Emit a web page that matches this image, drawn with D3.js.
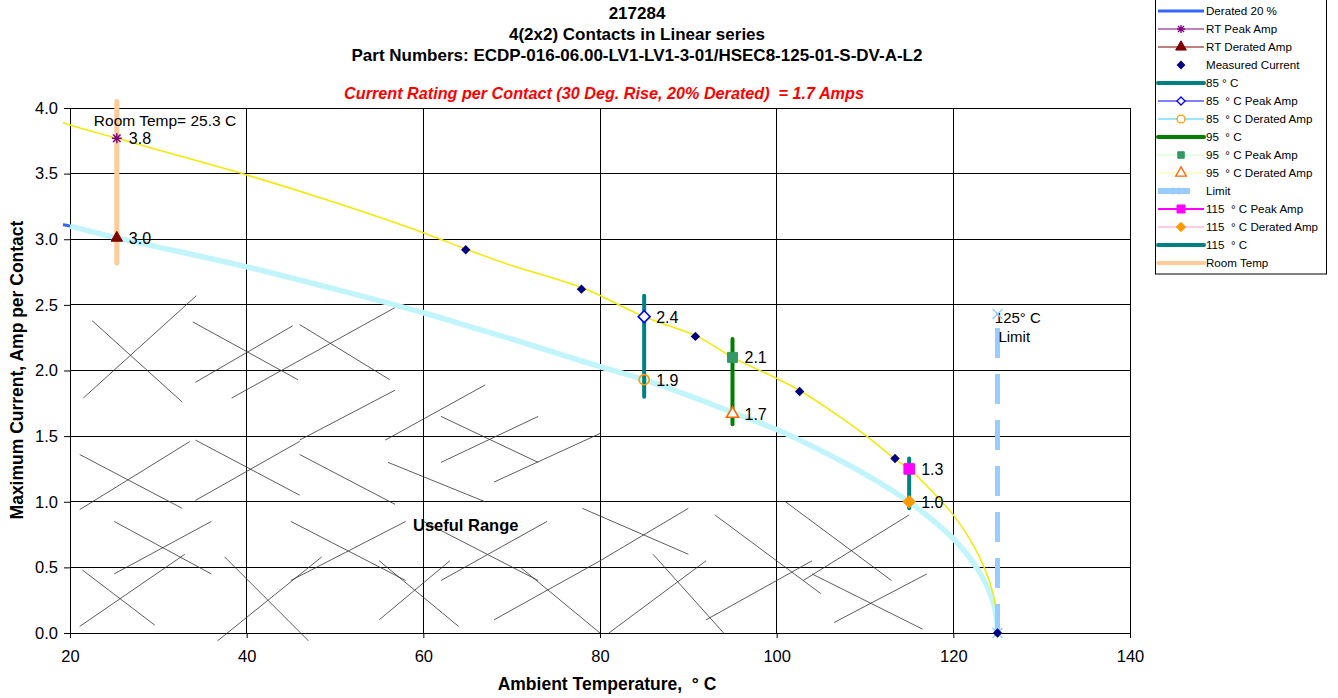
<!DOCTYPE html>
<html>
<head>
<meta charset="utf-8">
<script src="https://cdn.jsdelivr.net/npm/d3@7"></script>
<style>
    body { margin: 0; background: #fff; }
    svg { font-family: "Liberation Sans", Arial, sans-serif; }
    .pre { white-space: pre; }
</style>
</head>
<body>
<svg id="chart" width="1338" height="698"></svg>
<script>
// Peak current curve (yellow)
const peakCurveTemp = [19.2, 20, 25.3, 30, 40, 50, 60, 65, 70, 78, 85, 91, 95, 100, 102.8, 106, 110, 113.5, 115, 118, 120, 122, 123.5, 124.5, 124.9, 125];
const peakCurveAmp  = [3.89, 3.87, 3.77, 3.68, 3.49, 3.28, 3.05, 2.92, 2.80, 2.63, 2.41, 2.26, 2.10, 1.94, 1.84, 1.70, 1.51, 1.32, 1.25, 1.05, 0.90, 0.70, 0.50, 0.30, 0.14, 0];

// Derated 20 % curve
const deratedCurveTemp = [19.2, 20, 25.3, 30, 40, 50, 60, 65, 70, 80, 85, 90, 95, 100, 105, 110, 115, 118, 120, 122, 123.5, 124.5, 124.9, 125];
const deratedCurveAmp  = [3.11, 3.10, 3.01, 2.94, 2.79, 2.62, 2.44, 2.34, 2.24, 2.03, 1.93, 1.81, 1.68, 1.55, 1.39, 1.21, 1.00, 0.84, 0.72, 0.56, 0.40, 0.24, 0.11, 0];

// Measured current points
const measuredTemp = [64.8, 77.9, 90.8, 102.6, 113.4, 125];
const measuredAmp  = [2.92, 2.62, 2.26, 1.84, 1.33, 0];

// Rating points at room temp, 85, 95 and 115 C
const ratingTemp    = [25.3, 85, 95, 115];
const peakAmp       = [3.77, 2.41, 2.10, 1.25];
const peakLabel     = ["3.8", "2.4", "2.1", "1.3"];
const deratedAmp    = [3.01, 1.93, 1.67, 1.00];
const deratedLabel  = ["3.0", "1.9", "1.7", "1.0"];

// Vertical range bars
const barTemp = [25.3, 85, 95, 115];
const barLow  = [2.82, 1.80, 1.59, 0.95];
const barHigh = [4.05, 2.57, 2.24, 1.33];

// Limit line
const limitTemp = 125;
const limitAmp  = [0, 2.43];

// axis ticks
const xTicks = [20, 40, 60, 80, 100, 120, 140];
const yTicks = [0, 0.5, 1, 1.5, 2, 2.5, 3, 3.5, 4];

// "Useful Range" hatch lines: [temp1, amp1, temp2, amp2]
const hatchLines = [
    [21.5, 1.79, 34.3, 2.57], [22.5, 2.38, 32.7, 1.76],
    [33.9, 2.37, 45.8, 1.93], [34.2, 1.91, 45.2, 2.34],
    [38.3, 1.79, 56.8, 2.48], [46.0, 2.35, 56.2, 1.93],
    [21.1, 1.36, 32.7, 0.95], [21.1, 0.94, 33.6, 1.46],
    [34.2, 1.47, 46.0, 1.05], [34.2, 1.01, 46.0, 1.46],
    [46.0, 1.47, 56.8, 1.85], [46.0, 1.36, 56.8, 0.98],
    [55.7, 1.47, 67.0, 1.89], [56.0, 1.30, 67.0, 1.00],
    [62.0, 1.30, 73.0, 1.65], [62.0, 1.65, 73.0, 1.30],
    [68.0, 1.15, 80.0, 1.52],
    [21.4, 0.48, 29.6, 0.06], [21.1, 0.05, 33.0, 0.60],
    [25.0, 0.85, 36.0, 0.45], [25.0, 0.45, 36.0, 0.85],
    [36.7, -0.06, 48.5, 0.58], [37.5, 0.58, 47.0, -0.06],
    [45.0, 0.85, 58.0, 0.40], [45.0, 0.40, 58.0, 0.85],
    [55.0, 0.10, 63.0, 0.55], [55.0, 0.55, 64.0, 0.05],
    [60.0, 0.85, 73.0, 0.40], [62.0, 0.40, 74.0, 0.85],
    [71.0, 0.50, 80.0, 0.00], [68.0, 0.10, 80.0, 0.55],
    [78.0, 0.95, 90.0, 0.60], [80.0, 0.55, 90.0, 0.95],
    [81.0, 0.00, 92.0, 0.55], [86.0, 0.60, 94.0, 0.00],
    [93.0, 0.90, 105.0, 0.30], [92.0, 0.10, 104.0, 0.55],
    [101.0, 1.00, 113.0, 0.40], [103.0, 0.40, 115.0, 0.90],
    [106.5, 0.08, 117.0, 0.45], [104.0, 0.45, 116.5, 0.03]
];

let svg = d3.select("#chart");

let plotLeft = 70, plotRight = 1130, plotTop = 108, plotBottom = 633;
let x = d3.scaleLinear().domain([20, 140]).range([plotLeft, plotRight]);
let y = d3.scaleLinear().domain([0, 4]).range([plotBottom, plotTop]);

// grid
let grid = svg.append("g").attr("shape-rendering", "crispEdges");
grid.selectAll(".hg").data(yTicks).enter().append("line")
    .attr("x1", plotLeft).attr("x2", plotRight)
    .attr("y1", d => y(d)).attr("y2", d => y(d))
    .attr("stroke", "#000").attr("stroke-width", 1);
grid.selectAll(".vg").data(xTicks).enter().append("line")
    .attr("x1", d => x(d)).attr("x2", d => x(d))
    .attr("y1", plotTop).attr("y2", plotBottom)
    .attr("stroke", "#000").attr("stroke-width", 1);

// axes
let xAxis = svg.append("g").attr("transform", "translate(0," + plotBottom + ")")
    .call(d3.axisBottom(x).tickValues(xTicks).tickSize(5).tickSizeOuter(0).tickPadding(12).tickFormat(d3.format("d")));
let yAxis = svg.append("g").attr("transform", "translate(" + plotLeft + ",0)")
    .call(d3.axisLeft(y).tickValues(yTicks).tickSize(6).tickSizeOuter(0).tickPadding(6).tickFormat(d3.format(".1f")));
[xAxis, yAxis].forEach(a => {
    a.selectAll("text").attr("font-size", 16.5).attr("fill", "#000").attr("font-family", "Liberation Sans, Arial, sans-serif");
    a.select(".domain").attr("stroke", "#000");
    a.selectAll(".tick line").attr("stroke", "#000");
});

// hatch of the useful range
svg.append("g").selectAll("line").data(hatchLines).enter().append("line")
    .attr("x1", d => x(d[0])).attr("y1", d => y(d[1]))
    .attr("x2", d => x(d[2])).attr("y2", d => y(d[3]))
    .attr("stroke", "#333").attr("stroke-width", 0.8);

svg.append("text").attr("x", x(64.8)).attr("y", y(0.78))
    .attr("text-anchor", "middle").attr("font-weight", "bold").attr("font-size", 16.5)
    .text("Useful Range");

// curves
let line = d3.line().x(d => x(d[0])).y(d => y(d[1])).curve(d3.curveCatmullRom.alpha(0.5));
let deratedPts = deratedCurveTemp.map((t, i) => [t, deratedCurveAmp[i]]);
let peakPts = peakCurveTemp.map((t, i) => [t, peakCurveAmp[i]]);

svg.append("path").attr("d", line(deratedPts)).attr("fill", "none")
    .attr("stroke", "#3366ff").attr("stroke-width", 3);
svg.append("path").attr("d", line(deratedPts.filter(d => d[0] >= 20))).attr("fill", "none")
    .attr("stroke", "#c2f5fb").attr("stroke-width", 5.5);
svg.append("path").attr("d", line(peakPts)).attr("fill", "none")
    .attr("stroke", "#f2ea00").attr("stroke-width", 1.5);

// limit line
let limitColor = "#99ccff";
svg.append("line")
    .attr("x1", x(limitTemp)).attr("x2", x(limitTemp))
    .attr("y1", y(limitAmp[1])).attr("y2", y(limitAmp[0]))
    .attr("stroke", limitColor).attr("stroke-width", 5)
    .attr("stroke-dasharray", "30,16").attr("stroke-dashoffset", 32);
svg.append("text").attr("x", x(124.7)).attr("y", y(2.36)).attr("font-size", 15).text("125° C");
svg.append("text").attr("x", x(125.1)).attr("y", y(2.22)).attr("font-size", 15).text("Limit");

// range bars
const barColors = ["#ffcc99", "#008080", "#008000", "#008080"];
svg.append("g").selectAll("line").data(barTemp).enter().append("line")
    .attr("x1", d => x(d)).attr("x2", d => x(d))
    .attr("y1", (d, i) => y(barLow[i])).attr("y2", (d, i) => y(barHigh[i]))
    .attr("stroke", (d, i) => barColors[i])
    .attr("stroke-width", (d, i) => i === 0 ? 5 : 4)
    .attr("stroke-linecap", "round");

// markers
function marker(g, type, cx, cy, s) {
    if (type === "asterisk") {
        return g.append("path").attr("transform", "translate(" + cx + "," + cy + ")")
            .attr("d", `M${-s},0H${s}M0,${-s}V${s}M${-s * .75},${-s * .75}L${s * .75},${s * .75}M${-s * .75},${s * .75}L${s * .75},${-s * .75}`);
    }
    if (type === "cross") {
        return g.append("path").attr("transform", "translate(" + cx + "," + cy + ")")
            .attr("d", `M${-s},${-s}L${s},${s}M${-s},${s}L${s},${-s}`);
    }
    let sym = { diamond: d3.symbolDiamond2, square: d3.symbolSquare, triangle: d3.symbolTriangle, circle: d3.symbolCircle }[type];
    return g.append("path").attr("transform", "translate(" + cx + "," + cy + ")")
        .attr("d", d3.symbol().type(sym).size(s * s)());
}

let mk = svg.append("g");
// limit crosses
limitAmp.forEach(a => marker(mk, "cross", x(limitTemp), y(a), 5).attr("stroke", limitColor).attr("stroke-width", 1.5).attr("fill", "none"));
// measured current
measuredTemp.forEach((t, i) => {
    marker(mk, "diamond", x(t), y(measuredAmp[i]), 7.5).attr("fill", "#000080");
});

const peakStyle = [
    { type: "asterisk", size: 5, fill: "none", stroke: "#800080", sw: 1.5 },
    { type: "diamond", size: 9.5, fill: "#fff", stroke: "#0000ff", sw: 1.6 },
    { type: "square", size: 10, fill: "#339966", stroke: "#339966", sw: 1 },
    { type: "square", size: 10.5, fill: "#ff00ff", stroke: "#ff00ff", sw: 1 }
];
const deratedStyle = [
    { type: "triangle", size: 7.5, fill: "#800000", stroke: "#800000", sw: 1 },
    { type: "circle", size: 9, fill: "none", stroke: "#ff9900", sw: 1.6 },
    { type: "triangle", size: 8, fill: "#fff", stroke: "#ff6600", sw: 1.6 },
    { type: "diamond", size: 10, fill: "#ff9900", stroke: "#ff9900", sw: 1 }
];
ratingTemp.forEach((t, i) => {
    let ps = peakStyle[i], ds = deratedStyle[i];
    marker(mk, ps.type, x(t), y(peakAmp[i]), ps.size).attr("fill", ps.fill).attr("stroke", ps.stroke).attr("stroke-width", ps.sw);
    marker(mk, ds.type, x(t), y(deratedAmp[i]), ds.size).attr("fill", ds.fill).attr("stroke", ds.stroke).attr("stroke-width", ds.sw);
    mk.append("text").attr("x", x(t) + 12).attr("y", y(peakAmp[i]) + 6).attr("font-size", 16).text(peakLabel[i]);
    mk.append("text").attr("x", x(t) + 12).attr("y", y(deratedAmp[i]) + 6).attr("font-size", 16).text(deratedLabel[i]);
});

svg.append("text").attr("x", x(22.7)).attr("y", y(3.86)).attr("font-size", 15.5).text("Room Temp= 25.3 C");

// titles
let titles = ["217284", "4(2x2) Contacts in Linear series", "Part Numbers: ECDP-016-06.00-LV1-LV1-3-01/HSEC8-125-01-S-DV-A-L2"];
svg.append("g").selectAll("text").data(titles).enter().append("text")
    .attr("x", 637).attr("y", (d, i) => 19 + i * 21)
    .attr("text-anchor", "middle").attr("font-weight", "bold").attr("font-size", 17)
    .text(d => d);
svg.append("text").attr("x", 604).attr("y", 99).attr("class", "pre")
    .attr("text-anchor", "middle").attr("font-weight", "bold").attr("font-style", "italic")
    .attr("font-size", 16.2).attr("fill", "#ff0000")
    .text("Current Rating per Contact (30 Deg. Rise, 20% Derated)  = 1.7 Amps");

svg.append("text").attr("x", 607).attr("y", 690).attr("class", "pre")
    .attr("text-anchor", "middle").attr("font-weight", "bold").attr("font-size", 17.5)
    .text("Ambient Temperature,  ° C");
svg.append("text").attr("transform", "translate(23,370) rotate(-90)")
    .attr("text-anchor", "middle").attr("font-weight", "bold").attr("font-size", 17.5)
    .text("Maximum Current, Amp per Contact");

// legend
const legendNames = ["Derated 20 %", "RT Peak Amp", "RT Derated Amp", "Measured Current", "85 ° C",
    "85  ° C Peak Amp", "85  ° C Derated Amp", "95  ° C", "95  ° C Peak Amp", "95  ° C Derated Amp",
    "Limit", "115  ° C Peak Amp", "115  ° C Derated Amp", "115  ° C", "Room Temp"];
const legendLine = [
    { c: "#3366ff", w: 3 }, { c: "#800080", w: 1 }, { c: "#800000", w: 1 }, null, { c: "#008080", w: 4 },
    { c: "#0000ff", w: 1 }, { c: "#33ccff", w: 1 }, { c: "#008000", w: 4 }, { c: "#ccffcc", w: 1 }, { c: "#ffff99", w: 1 },
    { c: "#99ccff", w: 6, short: true }, { c: "#ff00ff", w: 2 }, { c: "#ff99cc", w: 1 }, { c: "#008080", w: 4 }, { c: "#ffcc99", w: 4 }
];
const legendMarker = [
    null, { type: "asterisk", size: 4, fill: "none", stroke: "#800080", sw: 1.3 },
    { type: "triangle", size: 7, fill: "#800000", stroke: "#800000", sw: 1 },
    { type: "diamond", size: 7, fill: "#000080", stroke: "none", sw: 0 }, null,
    { type: "diamond", size: 6.5, fill: "#fff", stroke: "#0000ff", sw: 1.3 },
    { type: "circle", size: 7, fill: "#fff", stroke: "#ff9900", sw: 1.3 }, null,
    { type: "square", size: 6.5, fill: "#339966", stroke: "#339966", sw: 1 },
    { type: "triangle", size: 7, fill: "#fff", stroke: "#ff6600", sw: 1.3 },
    { type: "cross", size: 3.5, fill: "none", stroke: "#99ccff", sw: 1.3 },
    { type: "square", size: 8, fill: "#ff00ff", stroke: "#ff00ff", sw: 1 },
    { type: "diamond", size: 7.5, fill: "#ff9900", stroke: "#ff9900", sw: 1 }, null, null
];

let lg = svg.append("g");
lg.append("rect").attr("x", 1155.5).attr("y", -2).attr("width", 171).attr("height", 276)
    .attr("fill", "#fff").attr("stroke", "#000").attr("stroke-width", 1);
legendNames.forEach((name, i) => {
    let cy = 11 + i * 18;
    let ls = legendLine[i];
    if (ls) {
        lg.append("line").attr("x1", 1158).attr("x2", ls.short ? 1190 : 1204).attr("y1", cy).attr("y2", cy)
            .attr("stroke", ls.c).attr("stroke-width", ls.w).attr("stroke-linecap", ls.w >= 4 && !ls.short ? "round" : "butt");
    }
    let m = legendMarker[i];
    if (m) {
        let mx = ls && ls.short ? 1176 : 1181;
        marker(lg, m.type, mx, cy, m.size).attr("fill", m.fill).attr("stroke", m.stroke).attr("stroke-width", m.sw);
    }
    lg.append("text").attr("x", 1206).attr("y", cy + 4).attr("class", "pre").attr("font-size", 11.6).text(name);
});
</script>
</body>
</html>
